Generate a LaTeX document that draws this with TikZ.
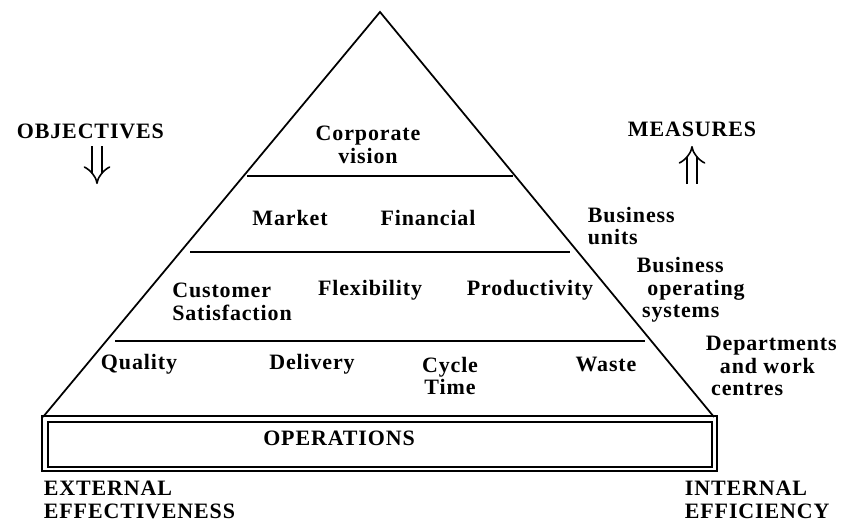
\documentclass[tikz,border=0pt]{standalone}
\usepackage{fontspec}
\setmainfont{Liberation Serif}[LetterSpace=4]
\usetikzlibrary{arrows.meta, positioning}
\tikzset{
  lbl/.style={font=\fontsize{12.5}{12.8}\selectfont\bfseries, align=center, inner sep=0pt},
  side/.style={lbl, align=left, anchor=west},
  dbl/.style={double, double distance=4.5pt, line width=0.9pt, -{Implies[scale=1.4]}},
}

\begin{document}
\begin{tikzpicture}[x=0.02cm, y=-0.02cm, line width=1pt]
    \useasboundingbox (0,0) rectangle (844,527);
    % pyramid
    \coordinate (apex) at (380,12);
    \coordinate (bl) at (43,417);
    \coordinate (br) at (714,417);
    \draw (bl) -- (apex) -- (br);
    % levels
    \draw (247,176) -- (513,176);
    \draw (190,252) -- (570,252);
    \draw (115,341) -- (645,341);
    % base
    \draw (42,416) rectangle (717,471);
    \draw (48,422) rectangle (712,467);

    \node[lbl] (vision) at (368,145) {Corporate\\vision};
    \node[lbl] (market) at (290,218) {Market};
    \node[lbl] (financial) at (428,218) {Financial};
    \node[lbl, align=left] (customer) at (232,302) {Customer\\Satisfaction};
    \node[lbl] (flex) at (370,290) {Flexibility};
    \node[lbl] (prod) at (530,290) {Productivity};
    \node[lbl] (quality) at (139,364) {Quality};
    \node[lbl] (delivery) at (312,364) {Delivery};
    \node[lbl] (cycle) at (450,376) {Cycle\\Time};
    \node[lbl] (waste) at (606,364) {Waste};
    \node[lbl] (ops) at (339,438) {OPERATIONS};

    \node[side] (ext) at (43,500) {EXTERNAL\\EFFECTIVENESS};
    \node[side] (int) at (684,500) {INTERNAL\\EFFICIENCY};

    \node[side] (obj) at (16,131) {OBJECTIVES};
    \node[lbl] (meas) at (692,129) {MEASURES};
    \coordinate (objtop) at (97,146);
    \coordinate (objbot) at (97,184);
    \coordinate (meastop) at (692,146);
    \coordinate (measbot) at (692,184);
    \draw[dbl] (objtop) -- (objbot);
    \draw[dbl] (measbot) -- (meastop);

    \node[side] (bu) at (587,226) {Business\\units};
    \node[side] (bos) at (636,290) {Business\\\hspace*{6pt}operating\\\hspace*{3pt}systems};
    \node[side] (dept) at (705,366) {Departments\\\hspace*{8pt}and work\\\hspace*{3pt}centres};
\end{tikzpicture}
\end{document}
